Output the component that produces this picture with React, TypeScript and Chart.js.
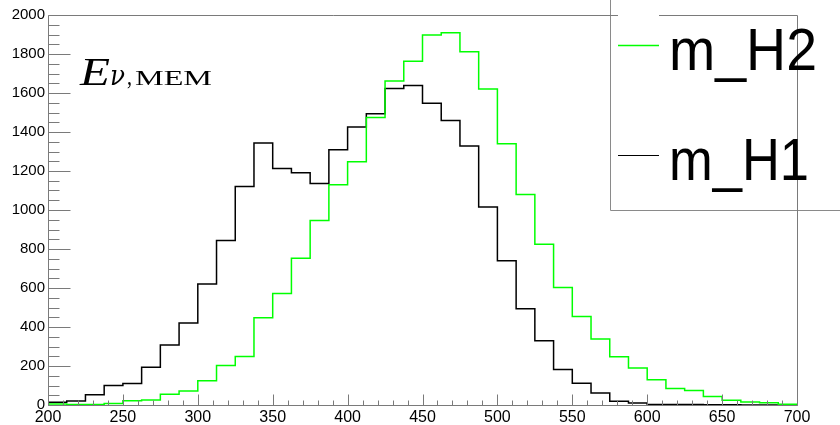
import React, { useEffect, useRef } from "react";
import { Chart, registerables } from "chart.js";

Chart.register(...registerables);

const binStart = 200;
const binWidth = 12.5;
const xMin = 200;
const xMax = 700;
const yMin = 0;
const yMax = 2000;

const h1Label = "m_H1";
const h2Label = "m_H2";

// black histogram (m_H1)
const h1Values = [
  14, 20, 52, 100, 110, 194, 308, 421, 620, 844,
  1120, 1343, 1213, 1191, 1136, 1309, 1426, 1493, 1623, 1638,
  1548, 1459, 1328, 1016, 740, 494, 329, 182, 112, 62,
  19, 10, 3, 2, 2, 1, 1, 0, 0, 0,
];

// green histogram (m_H2)
const h2Values = [
  5, 3, 2, 8, 22, 26, 55, 72, 124, 203,
  249, 447, 572, 752, 946, 1129, 1248, 1474, 1662, 1763,
  1897, 1909, 1811, 1621, 1340, 1080, 824, 602, 454, 338,
  247, 190, 130, 84, 75, 44, 24, 15, 12, 4,
];

const xTickLabels = ["200", "250", "300", "350", "400", "450", "500", "550", "600", "650", "700"];
const yTickLabels = ["0", "200", "400", "600", "800", "1000", "1200", "1400", "1600", "1800", "2000"];

function toSteps(values: number[]) {
  const pts = values.map((v, i) => ({ x: binStart + i * binWidth, y: v }));
  pts.push({ x: binStart + values.length * binWidth, y: values[values.length - 1] });
  return pts;
}

const FRAME = "#7a7a7a";

function drawScaledText(
  ctx: CanvasRenderingContext2D,
  text: string,
  font: string,
  x: number,
  y: number,
  targetWidth: number
) {
  ctx.save();
  ctx.font = font;
  const w = ctx.measureText(text).width;
  const sx = targetWidth / w;
  ctx.translate(x, y);
  ctx.scale(sx, 1);
  ctx.textBaseline = "alphabetic";
  ctx.textAlign = "left";
  ctx.fillText(text, 0, 0);
  ctx.restore();
}

const rootPlugin = {
  id: "rootStyle",
  afterDraw(chart: any) {
    const ctx: CanvasRenderingContext2D = chart.ctx;
    const { left, right, top, bottom } = chart.chartArea;
    const xs = chart.scales.x;
    const ys = chart.scales.y;
    ctx.save();
    ctx.strokeStyle = FRAME;
    ctx.lineWidth = 1;
    const L = Math.round(left) + 0.5;
    const R = Math.round(right) + 0.5;
    const T = Math.round(top) + 0.5;
    const B = Math.round(bottom) + 0.5;

    // y ticks (inside)
    for (let v = yMin; v <= yMax; v += 50) {
      const py = Math.round(ys.getPixelForValue(v)) + 0.5;
      const len = v % 200 === 0 ? 22 : 11;
      ctx.beginPath();
      ctx.moveTo(L, py);
      ctx.lineTo(L + len, py);
      ctx.stroke();
    }
    // x ticks (inside)
    for (let v = xMin; v <= xMax; v += 10) {
      const px = Math.round(xs.getPixelForValue(v)) + 0.5;
      const len = v % 50 === 0 ? 11 : 5;
      ctx.beginPath();
      ctx.moveTo(px, B);
      ctx.lineTo(px, B - len);
      ctx.stroke();
    }

    // title E_{nu,MEM}
    ctx.fillStyle = "#000";
    drawScaledText(ctx, "E", 'italic 40px "Liberation Serif"', 80, 85, 30);
    drawScaledText(ctx, "\u03bd", 'italic 27px "DejaVu Serif"', 110, 85, 15);
    drawScaledText(ctx, ",", '26px "Liberation Serif"', 127, 85, 5);
    drawScaledText(ctx, "MEM", '21px "Liberation Serif"', 135, 85, 77);

    // legend box
    ctx.fillStyle = "#fff";
    ctx.fillRect(610, -5, 240, 215);
    ctx.strokeStyle = "#8a8a8a";
    ctx.beginPath();
    ctx.moveTo(610.5, -5);
    ctx.lineTo(610.5, 210.5);
    ctx.lineTo(845, 210.5);
    ctx.stroke();

    // frame
    ctx.strokeStyle = FRAME;
    ctx.beginPath();
    ctx.moveTo(L, T);
    ctx.lineTo(L, B);
    ctx.lineTo(R, B);
    ctx.stroke();
    ctx.beginPath();
    ctx.moveTo(L, T);
    ctx.lineTo(618, T);
    ctx.moveTo(659, T);
    ctx.lineTo(R, T);
    ctx.lineTo(R, B);
    ctx.stroke();

    // legend entries
    ctx.lineWidth = 1.5;
    ctx.strokeStyle = "#00ff00";
    ctx.beginPath();
    ctx.moveTo(618, 45.5);
    ctx.lineTo(659, 45.5);
    ctx.stroke();
    ctx.lineWidth = 1;
    ctx.strokeStyle = "#000";
    ctx.beginPath();
    ctx.moveTo(618, 155.5);
    ctx.lineTo(659, 155.5);
    ctx.stroke();
    ctx.fillStyle = "#000";
    drawScaledText(ctx, h2Label, '60px "Liberation Sans"', 669, 70, 148);
    drawScaledText(ctx, h1Label, '60px "Liberation Sans"', 669, 180, 140);
    ctx.restore();
  },
};

export default function App() {
  const ref = useRef<HTMLCanvasElement>(null);
  useEffect(() => {
    if (!ref.current) return;
    const chart = new Chart(ref.current, {
      type: "line",
      data: {
        datasets: [
          {
            label: h2Label,
            data: toSteps(h2Values),
            borderColor: "#00ff00",
            borderWidth: 1.5,
            stepped: "before",
            pointRadius: 0,
            fill: false,
          },
          {
            label: h1Label,
            data: toSteps(h1Values),
            borderColor: "#000000",
            borderWidth: 1.5,
            stepped: "before",
            pointRadius: 0,
            fill: false,
          },
        ],
      },
      options: {
        animation: false,
        responsive: false,
        events: [],
        layout: { padding: { left: 0, right: 43, top: 15, bottom: 0 } },
        plugins: { legend: { display: false }, tooltip: { enabled: false }, title: { display: false } },
        scales: {
          x: {
            type: "linear",
            min: xMin,
            max: xMax,
            grid: { display: false, drawTicks: false },
            border: { display: false },
            afterFit: (s: any) => {
              s.height = 20;
            },
            afterBuildTicks: (s: any) => {
              s.ticks = xTickLabels.map((t) => ({ value: Number(t) }));
            },
            ticks: {
              padding: 3,
              maxRotation: 0,
              autoSkip: false,
              color: "#000",
              font: { family: "Liberation Sans", size: 16 },
              callback: (v: any) => String(v),
            },
          },
          y: {
            type: "linear",
            min: yMin,
            max: yMax,
            grid: { display: false, drawTicks: false },
            border: { display: false },
            afterFit: (s: any) => {
              s.width = 48;
            },
            afterBuildTicks: (s: any) => {
              s.ticks = yTickLabels.map((t) => ({ value: Number(t) }));
            },
            ticks: {
              padding: 3,
              autoSkip: false,
              color: "#000",
              font: { family: "Liberation Sans", size: 15 },
              callback: (v: any) => String(v),
            },
          },
        },
      },
      plugins: [rootPlugin],
    });
    return () => chart.destroy();
  }, []);
  return (
    <div style={{ position: "fixed", left: 0, top: 0, width: 840, height: 425, background: "#fff" }}>
      <canvas ref={ref} width={840} height={425} style={{ width: 840, height: 425 }} />
    </div>
  );
}
